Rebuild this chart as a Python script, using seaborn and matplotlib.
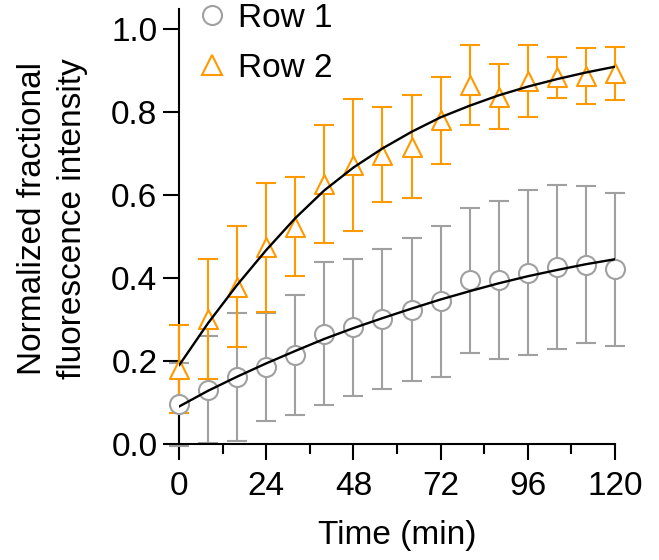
import numpy as np
import pandas as pd
import matplotlib
matplotlib.use("Agg")
import matplotlib.pyplot as plt
from matplotlib.lines import Line2D
import seaborn as sns

# ---- data ----
time_min = [0, 8, 16, 24, 32, 40, 48, 56, 64, 72, 80, 88, 96, 104, 112, 120]
row1_mean = [0.097, 0.132, 0.163, 0.186, 0.216, 0.267, 0.282, 0.302, 0.324, 0.345,
             0.395, 0.396, 0.414, 0.428, 0.433, 0.422]
row1_err = [0.100, 0.130, 0.154, 0.130, 0.145, 0.172, 0.165, 0.168, 0.172, 0.182,
            0.175, 0.190, 0.198, 0.198, 0.190, 0.184]
row2_mean = [0.182, 0.302, 0.380, 0.475, 0.524, 0.627, 0.673, 0.698, 0.717, 0.781,
             0.866, 0.838, 0.876, 0.884, 0.887, 0.894]
row2_err = [0.106, 0.144, 0.145, 0.155, 0.119, 0.143, 0.160, 0.115, 0.124, 0.105,
            0.097, 0.078, 0.087, 0.050, 0.068, 0.064]
# fitted curves
row1_fit = [0.091, 0.129, 0.163, 0.195, 0.225, 0.254, 0.280, 0.304, 0.327, 0.349,
            0.369, 0.388, 0.405, 0.420, 0.434, 0.446]
row2_fit = [0.190, 0.292, 0.384, 0.468, 0.545, 0.612, 0.667, 0.713, 0.753, 0.788,
            0.816, 0.841, 0.862, 0.880, 0.896, 0.910]
series_names = ["Row 1", "Row 2"]
x_ticks = [0, 24, 48, 72, 96, 120]
x_minor = [12, 36, 60, 84, 108]
y_ticks = [0.0, 0.2, 0.4, 0.6, 0.8, 1.0]

GRAY = "#A0A0A0"
ORANGE = "#FF9900"

sns.set_theme(style="ticks")
plt.rcParams["font.family"] = ["Liberation Sans", "DejaVu Sans"]
plt.rcParams["text.color"] = "black"
plt.rcParams["axes.labelcolor"] = "black"

fig = plt.figure(figsize=(6.59, 5.6), dpi=100)
ax = fig.add_axes([179 / 659, 1 - 444.3 / 560, 436 / 659, (444.3 - 8.6) / 560])

df = pd.DataFrame({
    "t": time_min * 2,
    "mean": row1_mean + row2_mean,
    "err": row1_err + row2_err,
    "fit": row1_fit + row2_fit,
    "series": [series_names[0]] * len(time_min) + [series_names[1]] * len(time_min),
})

ms = 13.7
styles = {series_names[0]: (GRAY, "o"), series_names[1]: (ORANGE, "^")}
z = 2
for name in series_names:
    d = df[df["series"] == name]
    col, mk = styles[name]
    ax.errorbar(d["t"], d["mean"], yerr=d["err"], fmt="none", ecolor=col,
                elinewidth=1.5, capsize=7.2, capthick=1.5, clip_on=False, zorder=z)
    z += 1
for name in series_names:
    d = df[df["series"] == name]
    col, mk = styles[name]
    sns.scatterplot(data=d, x="t", y="mean", marker=mk, s=ms ** 2, facecolor="white",
                    edgecolor=col, linewidth=1.5, ax=ax, clip_on=False, zorder=5,
                    legend=False)
sns.lineplot(data=df, x="t", y="fit", units="series", estimator=None, color="black",
             linewidth=1.7, ax=ax, zorder=6, legend=False)

ax.set_xlim(0, 120)
ax.set_ylim(0, 1.05)
ax.set_xticks(x_ticks)
ax.set_xticks(x_minor, minor=True)
ax.set_yticks(y_ticks)
ax.set_yticklabels([f"{v:.1f}" for v in y_ticks])
ax.tick_params(axis="both", which="major", direction="out", length=11.5, width=1.5,
               labelsize=24, color="black", labelcolor="black", pad=4)
ax.tick_params(axis="x", which="minor", direction="out", length=7, width=1.5,
               color="black")
ax.tick_params(axis="x", which="major", pad=8)
sns.despine(ax=ax)
for s in ("left", "bottom"):
    ax.spines[s].set_linewidth(1.5)
    ax.spines[s].set_color("black")

ax.set_xlabel("Time (min)", fontsize=24, labelpad=13, color="black")
ax.set_ylabel("Normalized fractional\nfluorescence intensity", fontsize=24,
              linespacing=1.35, multialignment="center", color="black")
ax.yaxis.set_label_coords(-0.209, 0.519)

handles = [
    Line2D([], [], linestyle="none", marker="o", markersize=ms, markerfacecolor="white",
           markeredgecolor=GRAY, markeredgewidth=1.5),
    Line2D([], [], linestyle="none", marker="^", markersize=ms, markerfacecolor="white",
           markeredgecolor=ORANGE, markeredgewidth=1.5),
]
fig.legend(handles, series_names, loc="upper left",
           bbox_to_anchor=(195.5 / 659, 1 - 3 / 560),
           frameon=False, fontsize=24, handlelength=1.0, handletextpad=0.26,
           borderpad=0, borderaxespad=0, labelspacing=0.57, labelcolor="black")

fig.savefig("out.png", dpi=100)
